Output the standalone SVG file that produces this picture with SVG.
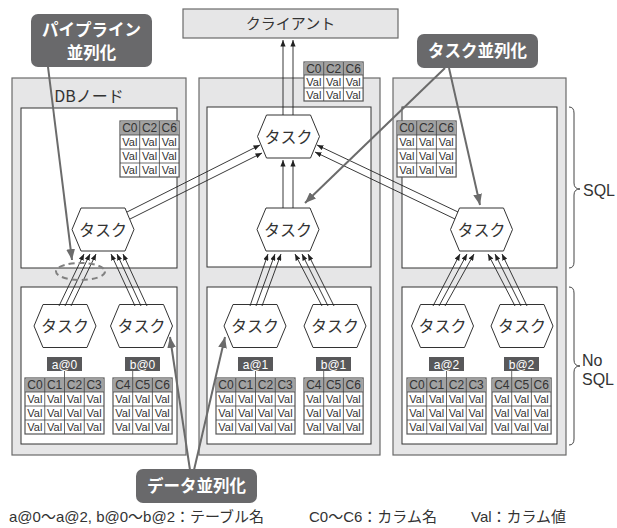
<svg xmlns="http://www.w3.org/2000/svg" width="617" height="528" viewBox="0 0 617 528">
  <style>
    .col { fill: #e6e6e7; stroke: #6a6a6a; stroke-width: 1.2; }
    .inner { fill: #ffffff; stroke: #333333; stroke-width: 1; }
    .hex { fill: #ffffff; stroke: #333333; stroke-width: 1; }
    .jp { font-family: "Noto Sans CJK JP", "Noto Sans", sans-serif; fill: #333333; }
    .task { font-size: 16px; text-anchor: middle; }
    .tb { fill: #ffffff; stroke: #555555; stroke-width: 1.2; }
    .th { fill: #a2a2a2; }
    .grid { fill: none; stroke: #444444; stroke-width: 0.8; }
    .cell { font-family: "Liberation Sans", Arial, sans-serif; font-size: 11px; fill: #333333; text-anchor: middle; }
    .hcell { font-family: "Liberation Sans", Arial, sans-serif; font-size: 12px; fill: #333333; text-anchor: middle; }
    .lbl { fill: #58585a; }
    .lbltx { font-family: "Liberation Sans", Arial, sans-serif; font-size: 12px; fill: #ffffff; text-anchor: middle; }
    .link { fill: none; stroke: #222222; stroke-width: 0.9; marker-end: url(#ah); }
    .call { fill: #69696b; }
    .calltx { font-family: "Noto Sans CJK JP", sans-serif; font-size: 16.5px; font-weight: bold; fill: #ffffff; text-anchor: middle; }
    .pointer { fill: none; stroke: #6b6b6b; stroke-width: 2; marker-end: url(#gh); }
    .brace { fill: none; stroke: #444444; stroke-width: 1; }
    .side { font-family: "Liberation Sans", Arial, sans-serif; font-size: 16px; fill: #333333; }
    .legend { font-family: "Liberation Sans", "Noto Sans CJK JP", sans-serif; font-size: 15px; fill: #333333; }
  </style>
  <defs>
    <marker id="ah" viewBox="0 0 10 8" refX="10" refY="4" markerWidth="6.5" markerHeight="5.2" orient="auto" markerUnits="userSpaceOnUse">
      <path d="M0,0 L10,4 L0,8 z" fill="#222222"/>
    </marker>
    <marker id="gh" viewBox="0 0 10 8" refX="10" refY="4" markerWidth="11" markerHeight="8.8" orient="auto" markerUnits="userSpaceOnUse">
      <path d="M0,0 L10,4 L0,8 z" fill="#6b6b6b"/>
    </marker>
    <!-- header + 3 value rows, 3 columns -->
    <g id="t3">
      <rect class="tb" x="0" y="0" width="59.1" height="56"/>
      <rect class="th" x="0.6" y="0.6" width="57.9" height="13.4"/>
      <path class="grid" d="M19.7,0V56M39.4,0V56M0,14H59.1M0,28H59.1M0,42H59.1"/>
      <text class="cell" x="9.85" y="25">Val</text><text class="cell" x="29.55" y="25">Val</text><text class="cell" x="49.25" y="25">Val</text>
      <text class="cell" x="9.85" y="39">Val</text><text class="cell" x="29.55" y="39">Val</text><text class="cell" x="49.25" y="39">Val</text>
      <text class="cell" x="9.85" y="53">Val</text><text class="cell" x="29.55" y="53">Val</text><text class="cell" x="49.25" y="53">Val</text>
    </g>
    <!-- header + 3 value rows, 4 columns -->
    <g id="t4">
      <rect class="tb" x="0" y="0" width="79" height="56"/>
      <rect class="th" x="0.6" y="0.6" width="77.8" height="13.4"/>
      <path class="grid" d="M19.75,0V56M39.5,0V56M59.25,0V56M0,14H79M0,28H79M0,42H79"/>
      <text class="cell" x="9.9" y="25">Val</text><text class="cell" x="29.6" y="25">Val</text><text class="cell" x="49.4" y="25">Val</text><text class="cell" x="69.1" y="25">Val</text>
      <text class="cell" x="9.9" y="39">Val</text><text class="cell" x="29.6" y="39">Val</text><text class="cell" x="49.4" y="39">Val</text><text class="cell" x="69.1" y="39">Val</text>
      <text class="cell" x="9.9" y="53">Val</text><text class="cell" x="29.6" y="53">Val</text><text class="cell" x="49.4" y="53">Val</text><text class="cell" x="69.1" y="53">Val</text>
    </g>
    <polygon id="hx" class="hex" points="-22,-21.5 22,-21.5 31,0 22,21.5 -22,21.5 -31,0"/>
  </defs>

  <!-- client -->
  <g id="client">
    <rect class="col" x="183" y="9" width="215" height="29"/>
    <text class="jp" x="290.5" y="29" font-size="15" text-anchor="middle">クライアント</text>
  </g>

  <!-- DB node columns -->
  <g id="db-node-0">
    <rect class="col" x="12" y="78" width="174" height="377"/>
    <rect class="inner" x="21" y="108" width="156" height="160"/>
    <rect class="inner" x="21" y="287" width="156" height="157"/>
    <text class="jp" x="89" y="102" font-size="16" text-anchor="middle">DBノード</text>
  </g>
  <g id="db-node-1">
    <rect class="col" x="199" y="78" width="181" height="377"/>
    <rect class="inner" x="207" y="107" width="164" height="160"/>
    <rect class="inner" x="207" y="287" width="164" height="157"/>
  </g>
  <g id="db-node-2">
    <rect class="col" x="393" y="78" width="173" height="377"/>
    <rect class="inner" x="402" y="107" width="155" height="161"/>
    <rect class="inner" x="402" y="287" width="155" height="157"/>
  </g>

  <!-- result table sent to the client -->
  <g id="result-table" transform="translate(304,62)">
    <rect class="tb" x="0" y="0" width="59.1" height="39"/>
    <rect class="th" x="0.6" y="0.6" width="57.9" height="12.4"/>
    <path class="grid" d="M19.7,0V39M39.4,0V39M0,13H59.1M0,26H59.1"/>
    <text class="hcell" x="9.85" y="11">C0</text><text class="hcell" x="29.55" y="11">C2</text><text class="hcell" x="49.25" y="11">C6</text>
    <text class="cell" x="9.85" y="23.5">Val</text><text class="cell" x="29.55" y="23.5">Val</text><text class="cell" x="49.25" y="23.5">Val</text>
    <text class="cell" x="9.85" y="36.5">Val</text><text class="cell" x="29.55" y="36.5">Val</text><text class="cell" x="49.25" y="36.5">Val</text>
  </g>

  <!-- SQL layer intermediate tables -->
  <g id="sql-table-0" transform="translate(120,121)">
    <use href="#t3"/>
    <text class="hcell" x="9.85" y="11">C0</text><text class="hcell" x="29.55" y="11">C2</text><text class="hcell" x="49.25" y="11">C6</text>
  </g>
  <g id="sql-table-2" transform="translate(397,121)">
    <use href="#t3"/>
    <text class="hcell" x="9.85" y="11">C0</text><text class="hcell" x="29.55" y="11">C2</text><text class="hcell" x="49.25" y="11">C6</text>
  </g>

  <!-- NoSQL storage tables -->
  <g id="table-a0" transform="translate(25,357)">
    <rect class="lbl" x="22" y="0" width="35" height="14"/>
    <text class="lbltx" x="39.5" y="11.5">a@0</text>
    <path class="grid" d="M39.5,14V21"/>
    <g transform="translate(0,21)"><use href="#t4"/>
      <text class="hcell" x="9.9" y="11">C0</text><text class="hcell" x="29.6" y="11">C1</text><text class="hcell" x="49.4" y="11">C2</text><text class="hcell" x="69.1" y="11">C3</text></g>
  </g>
  <g id="table-b0" transform="translate(113,357)">
    <rect class="lbl" x="12" y="0" width="35" height="14"/>
    <text class="lbltx" x="29.5" y="11.5">b@0</text>
    <path class="grid" d="M19.7,14V21"/>
    <g transform="translate(0,21)"><use href="#t3"/>
      <text class="hcell" x="9.85" y="11">C4</text><text class="hcell" x="29.55" y="11">C5</text><text class="hcell" x="49.25" y="11">C6</text></g>
  </g>
  <g id="table-a1" transform="translate(216,357)">
    <rect class="lbl" x="22" y="0" width="35" height="14"/>
    <text class="lbltx" x="39.5" y="11.5">a@1</text>
    <path class="grid" d="M39.5,14V21"/>
    <g transform="translate(0,21)"><use href="#t4"/>
      <text class="hcell" x="9.9" y="11">C0</text><text class="hcell" x="29.6" y="11">C1</text><text class="hcell" x="49.4" y="11">C2</text><text class="hcell" x="69.1" y="11">C3</text></g>
  </g>
  <g id="table-b1" transform="translate(304,357)">
    <rect class="lbl" x="12" y="0" width="35" height="14"/>
    <text class="lbltx" x="29.5" y="11.5">b@1</text>
    <path class="grid" d="M19.7,14V21"/>
    <g transform="translate(0,21)"><use href="#t3"/>
      <text class="hcell" x="9.85" y="11">C4</text><text class="hcell" x="29.55" y="11">C5</text><text class="hcell" x="49.25" y="11">C6</text></g>
  </g>
  <g id="table-a2" transform="translate(407,357)">
    <rect class="lbl" x="22" y="0" width="35" height="14"/>
    <text class="lbltx" x="39.5" y="11.5">a@2</text>
    <path class="grid" d="M39.5,14V21"/>
    <g transform="translate(0,21)"><use href="#t4"/>
      <text class="hcell" x="9.9" y="11">C0</text><text class="hcell" x="29.6" y="11">C1</text><text class="hcell" x="49.4" y="11">C2</text><text class="hcell" x="69.1" y="11">C3</text></g>
  </g>
  <g id="table-b2" transform="translate(492,357)">
    <rect class="lbl" x="12" y="0" width="35" height="14"/>
    <text class="lbltx" x="29.5" y="11.5">b@2</text>
    <path class="grid" d="M19.7,14V21"/>
    <g transform="translate(0,21)"><use href="#t3"/>
      <text class="hcell" x="9.85" y="11">C4</text><text class="hcell" x="29.55" y="11">C5</text><text class="hcell" x="49.25" y="11">C6</text></g>
  </g>

  <!-- tasks -->
  <g id="task-top" transform="translate(288.5,136.5)"><use href="#hx"/><text class="jp task" y="6">タスク</text></g>
  <g id="task-sql-0" transform="translate(103,229.5)"><use href="#hx"/><text class="jp task" y="6">タスク</text></g>
  <g id="task-sql-1" transform="translate(288,229.5)"><use href="#hx"/><text class="jp task" y="6">タスク</text></g>
  <g id="task-sql-2" transform="translate(481.5,229.5)"><use href="#hx"/><text class="jp task" y="6">タスク</text></g>
  <g id="task-a0" transform="translate(65,326)"><use href="#hx"/><text class="jp task" y="6">タスク</text></g>
  <g id="task-b0" transform="translate(141.5,326)"><use href="#hx"/><text class="jp task" y="6">タスク</text></g>
  <g id="task-a1" transform="translate(255,326)"><use href="#hx"/><text class="jp task" y="6">タスク</text></g>
  <g id="task-b1" transform="translate(335,326)"><use href="#hx"/><text class="jp task" y="6">タスク</text></g>
  <g id="task-a2" transform="translate(442.5,326)"><use href="#hx"/><text class="jp task" y="6">タスク</text></g>
  <g id="task-b2" transform="translate(522,326)"><use href="#hx"/><text class="jp task" y="6">タスク</text></g>

  <!-- data flow connectors -->
  <g id="connectors">
    <path class="link" d="M283,115 L283,40"/>
    <path class="link" d="M293,115 L293,40"/>
    <path class="link" d="M283,208 L283,160"/>
    <path class="link" d="M293,208 L293,160"/>
    <path class="link" d="M127,212 L260,145"/>
    <path class="link" d="M130,219 L262,153"/>
    <path class="link" d="M458,212 L317,145"/>
    <path class="link" d="M455,219 L315,152"/>
    <!-- NoSQL to SQL, three streams each -->
    <path class="link" d="M59,306 L84,254"/>
    <path class="link" d="M65,306 L90,254"/>
    <path class="link" d="M71,306 L96,254"/>
    <path class="link" d="M135,306 L111,254"/>
    <path class="link" d="M141,306 L117,254"/>
    <path class="link" d="M147,306 L123,254"/>
    <path class="link" d="M250,306 L268,254"/>
    <path class="link" d="M256,306 L275,254"/>
    <path class="link" d="M262,306 L281,254"/>
    <path class="link" d="M322,306 L295,254"/>
    <path class="link" d="M328,306 L302,254"/>
    <path class="link" d="M334,306 L308,254"/>
    <path class="link" d="M433,306 L460,254"/>
    <path class="link" d="M439,306 L467,254"/>
    <path class="link" d="M445,306 L474,254"/>
    <path class="link" d="M515,306 L488,254"/>
    <path class="link" d="M521,306 L495,254"/>
    <path class="link" d="M527,306 L502,254"/>
  </g>

  <!-- layer braces -->
  <g id="sql-brace">
    <path class="brace" d="M569,107 Q574,107 574,113 L574,183 Q574,189 580,189 Q574,189 574,195 L574,262 Q574,268 569,268"/>
    <text class="side" x="583" y="196">SQL</text>
  </g>
  <g id="nosql-brace">
    <path class="brace" d="M569,287 Q574,287 574,293 L574,360 Q574,366 580,366 Q574,366 574,372 L574,439 Q574,445 569,445"/>
    <text class="side" x="582" y="366">No</text>
    <text class="side" x="582" y="385">SQL</text>
  </g>

  <!-- annotation callouts -->
  <g id="pipeline-note">
    <ellipse cx="80.5" cy="271.5" rx="24.5" ry="8.5" fill="none" stroke="#808080" stroke-width="2" stroke-dasharray="6,4"/>
    <path class="pointer" d="M48,67 L72,260"/>
    <rect class="call" x="31" y="14" width="121" height="53" rx="7"/>
    <text class="calltx" x="91.5" y="36">パイプライン</text>
    <text class="calltx" x="91.5" y="59">並列化</text>
  </g>
  <g id="task-note">
    <path class="pointer" d="M445,68 L305,203"/>
    <path class="pointer" d="M449,68 L480,205"/>
    <rect class="call" x="417" y="34" width="121" height="34" rx="7"/>
    <text class="calltx" x="477.5" y="57">タスク並列化</text>
  </g>
  <g id="data-note">
    <path class="pointer" d="M190,470 L170,337"/>
    <path class="pointer" d="M194,470 L225,337"/>
    <rect class="call" x="136" y="469" width="121" height="34" rx="7"/>
    <text class="calltx" x="196.5" y="492">データ並列化</text>
  </g>

  <!-- legend -->
  <g id="legend">
    <text class="legend" x="9" y="522">a@0〜a@2, b@0〜b@2：テーブル名</text>
    <text class="legend" x="309" y="522">C0〜C6：カラム名</text>
    <text class="legend" x="471" y="522">Val：カラム値</text>
  </g>
</svg>
